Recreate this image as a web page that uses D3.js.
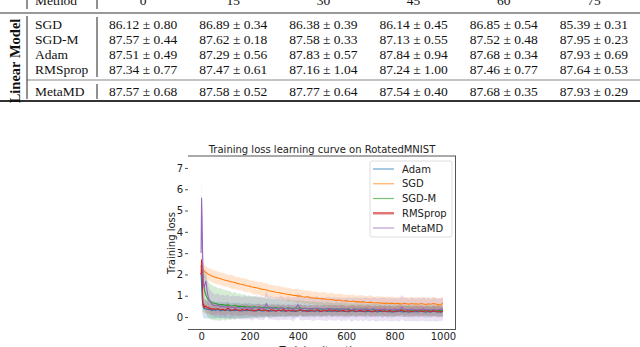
<!DOCTYPE html>
<html><head><meta charset="utf-8">
<script src="https://cdn.jsdelivr.net/npm/d3@7/dist/d3.min.js"></script>
<style>html,body{margin:0;padding:0;background:#fff;overflow:hidden}svg{display:block}</style>
</head><body>
<svg id="c" width="640" height="347"></svg>
<script>
// ---------- table data ----------
const tableGroup = "Linear Model";
const methods = ["SGD", "SGD-M", "Adam", "RMSprop"];
const oursMethod = "MetaMD";
const angles = ["0", "15", "30", "45", "60", "75"];
const accMean = [
  [86.12, 86.89, 86.38, 86.14, 86.85, 85.39],
  [87.57, 87.62, 87.58, 87.13, 87.52, 87.95],
  [87.51, 87.29, 87.83, 87.84, 87.68, 87.93],
  [87.34, 87.47, 87.16, 87.24, 87.46, 87.64]
];
const accStd = [
  [0.80, 0.34, 0.39, 0.45, 0.54, 0.31],
  [0.44, 0.18, 0.33, 0.55, 0.48, 0.23],
  [0.49, 0.56, 0.57, 0.94, 0.34, 0.69],
  [0.77, 0.61, 1.04, 1.00, 0.77, 0.53]
];
const oursMean = [87.57, 87.58, 87.77, 87.54, 87.68, 87.93];
const oursStd = [0.68, 0.52, 0.64, 0.40, 0.35, 0.29];

// ---------- chart data ----------
const chartTitle = "Training loss learning curve on RotatedMNIST";
const seriesNames = ["Adam", "SGD", "SGD-M", "RMSprop", "MetaMD"];
const xTicks = [0, 200, 400, 600, 800, 1000];
const yTicks = [0, 1, 2, 3, 4, 5, 6, 7];
const iterations = [0,2,4,6,8,10,12,15,20,25,30,35,40,45,50,
  60,70,80,90,100,110,120,130,140,150,
  160,170,180,190,200,210,220,230,240,250,
  260,270,280,290,300,310,320,330,340,350,
  360,370,380,390,400,410,420,430,440,450,
  460,470,480,490,500,510,520,530,540,550,
  560,570,580,590,600,610,620,630,640,650,
  660,670,680,690,700,710,720,730,740,750,
  760,770,780,790,800,810,820,830,840,850,
  860,870,880,890,900,910,920,930,940,950,
  960,970,980,990,1000];

const adamMean = [2.05,1.55,1.05,0.70,0.52,0.45,0.42,0.38,0.40,0.36,0.35,0.38,0.34,0.31,0.34,
  0.32,0.35,0.30,0.33,0.31,0.34,0.29,0.32,0.30,0.33,
  0.31,0.28,0.32,0.30,0.33,0.29,0.31,0.28,0.32,0.30,
  0.29,0.33,0.30,0.27,0.31,0.29,0.32,0.28,0.30,0.27,
  0.31,0.29,0.26,0.30,0.28,0.32,0.27,0.29,0.30,0.26,
  0.29,0.27,0.30,0.25,0.28,0.31,0.26,0.28,0.27,0.29,
  0.25,0.28,0.30,0.26,0.27,0.24,0.29,0.27,0.25,0.28,
  0.26,0.29,0.24,0.27,0.25,0.28,0.26,0.24,0.27,0.25,
  0.28,0.25,0.26,0.23,0.27,0.25,0.28,0.24,0.26,0.25,
  0.23,0.27,0.25,0.26,0.24,0.28,0.25,0.23,0.26,0.24,
  0.27,0.25,0.23,0.26,0.25];
const adamStd = [0.60,0.90,0.80,0.60,0.50,0.50,0.48,0.46,0.45,0.44,0.43,0.42,0.42,0.41,0.40,
  0.40,0.38,0.39,0.37,0.38,0.36,0.37,0.35,0.36,0.34,
  0.35,0.33,0.35,0.32,0.34,0.33,0.31,0.33,0.32,0.30,
  0.32,0.31,0.30,0.32,0.29,0.31,0.30,0.28,0.30,0.29,
  0.30,0.28,0.29,0.31,0.28,0.29,0.27,0.30,0.28,0.29,
  0.27,0.29,0.28,0.26,0.29,0.27,0.28,0.26,0.28,0.27,
  0.26,0.28,0.27,0.29,0.26,0.27,0.25,0.28,0.26,0.27,
  0.25,0.27,0.26,0.28,0.25,0.26,0.27,0.25,0.26,0.28,
  0.25,0.26,0.27,0.25,0.26,0.24,0.27,0.25,0.26,0.25,
  0.26,0.25,0.27,0.25,0.26,0.24,0.26,0.25,0.27,0.25,
  0.26,0.25,0.27,0.25,0.26];

const sgdMean = [2.42,2.36,2.30,2.26,2.22,2.20,2.17,2.13,2.09,2.05,2.01,1.98,1.96,1.93,1.90,
  1.86,1.83,1.80,1.76,1.73,1.70,1.67,1.64,1.62,1.58,
  1.55,1.53,1.50,1.47,1.45,1.41,1.39,1.37,1.34,1.31,
  1.29,1.27,1.23,1.21,1.19,1.16,1.15,1.12,1.10,1.08,
  1.06,1.05,1.01,1.02,0.98,0.99,0.95,0.93,0.96,0.91,
  0.90,0.88,0.89,0.86,0.85,0.86,0.82,0.81,0.83,0.79,
  0.78,0.80,0.76,0.75,0.77,0.74,0.73,0.75,0.71,0.72,
  0.70,0.72,0.69,0.68,0.70,0.67,0.66,0.68,0.65,0.66,
  0.64,0.66,0.63,0.65,0.62,0.64,0.63,0.61,0.64,0.62,
  0.60,0.63,0.61,0.62,0.60,0.63,0.61,0.59,0.62,0.60,
  0.63,0.61,0.58,0.55,0.66];
const sgdStd = [0.30,0.30,0.31,0.30,0.29,0.30,0.31,0.30,0.29,0.30,0.31,0.30,0.29,0.30,0.31,
  0.30,0.31,0.29,0.32,0.30,0.28,0.31,0.33,0.29,0.30,
  0.31,0.29,0.32,0.30,0.28,0.31,0.33,0.30,0.29,0.32,
  0.30,0.34,0.29,0.31,0.30,0.28,0.32,0.30,0.31,0.29,
  0.33,0.30,0.28,0.31,0.35,0.30,0.29,0.32,0.30,0.31,
  0.29,0.32,0.30,0.28,0.33,0.31,0.29,0.30,0.32,0.30,
  0.31,0.29,0.33,0.30,0.28,0.32,0.30,0.31,0.29,0.30,
  0.32,0.30,0.29,0.31,0.33,0.30,0.28,0.31,0.30,0.32,
  0.29,0.31,0.30,0.33,0.28,0.30,0.32,0.29,0.31,0.30,
  0.33,0.30,0.29,0.32,0.30,0.31,0.29,0.33,0.30,0.31,
  0.33,0.30,0.29,0.32,0.30];

const sgdmMean = [2.40,2.32,2.15,1.95,1.75,1.58,1.42,1.22,1.02,0.90,0.82,0.76,0.72,0.69,0.66,
  0.63,0.60,0.58,0.59,0.55,0.57,0.53,0.52,0.54,0.50,
  0.51,0.49,0.50,0.47,0.48,0.46,0.49,0.45,0.47,0.44,
  0.46,0.43,0.45,0.44,0.42,0.45,0.41,0.43,0.42,0.40,
  0.43,0.41,0.39,0.42,0.40,0.44,0.39,0.41,0.38,0.40,
  0.38,0.41,0.37,0.39,0.38,0.36,0.40,0.37,0.38,0.35,
  0.38,0.36,0.39,0.35,0.37,0.36,0.34,0.37,0.35,0.36,
  0.34,0.37,0.33,0.36,0.34,0.35,0.33,0.36,0.32,0.34,
  0.33,0.35,0.32,0.34,0.33,0.31,0.36,0.33,0.32,0.34,
  0.31,0.33,0.32,0.30,0.34,0.31,0.33,0.30,0.32,0.31,
  0.30,0.33,0.31,0.29,0.32];
const sgdmStd = [0.30,0.35,0.45,0.55,0.65,0.75,0.80,0.85,0.86,0.84,0.85,0.83,0.84,0.81,0.80,
  0.79,0.75,0.77,0.71,0.72,0.67,0.68,0.62,0.64,0.58,
  0.60,0.55,0.57,0.52,0.54,0.49,0.51,0.47,0.49,0.45,
  0.47,0.43,0.45,0.41,0.44,0.40,0.42,0.39,0.41,0.37,
  0.40,0.36,0.39,0.35,0.38,0.34,0.37,0.33,0.36,0.32,
  0.35,0.32,0.34,0.31,0.33,0.30,0.33,0.30,0.32,0.29,
  0.32,0.29,0.31,0.28,0.31,0.28,0.30,0.27,0.30,0.27,
  0.29,0.27,0.29,0.26,0.29,0.26,0.28,0.26,0.28,0.25,
  0.28,0.25,0.27,0.25,0.27,0.24,0.27,0.24,0.26,0.24,
  0.26,0.24,0.26,0.23,0.26,0.23,0.25,0.23,0.25,0.23,
  0.25,0.22,0.25,0.22,0.24];

const rmsMean = [2.00,2.70,2.40,1.20,0.62,0.50,0.56,0.45,0.52,0.42,0.46,0.38,0.41,0.35,0.39,
  0.36,0.40,0.33,0.37,0.30,0.42,0.34,0.31,0.38,0.33,
  0.29,0.35,0.32,0.37,0.30,0.34,0.28,0.33,0.36,0.29,
  0.34,0.30,0.27,0.35,0.31,0.28,0.33,0.30,0.36,0.27,
  0.32,0.29,0.34,0.26,0.31,0.35,0.28,0.30,0.25,0.33,
  0.29,0.27,0.34,0.30,0.26,0.32,0.28,0.35,0.27,0.30,
  0.33,0.26,0.29,0.31,0.25,0.30,0.28,0.34,0.26,0.29,
  0.31,0.25,0.28,0.33,0.27,0.24,0.30,0.28,0.32,0.26,
  0.29,0.25,0.31,0.27,0.24,0.30,0.28,0.33,0.25,0.28,
  0.30,0.24,0.27,0.32,0.26,0.29,0.25,0.31,0.27,0.24,
  0.30,0.26,0.28,0.23,0.27];
const rmsStd = [0.30,0.35,0.40,0.40,0.35,0.32,0.30,0.30,0.30,0.29,0.30,0.28,0.29,0.28,0.27,
  0.27,0.26,0.28,0.25,0.27,0.26,0.24,0.27,0.25,0.26,
  0.24,0.27,0.25,0.26,0.23,0.26,0.25,0.27,0.24,0.26,
  0.25,0.23,0.26,0.24,0.27,0.25,0.24,0.26,0.23,0.25,
  0.26,0.24,0.25,0.23,0.26,0.24,0.27,0.25,0.23,0.25,
  0.24,0.26,0.23,0.25,0.24,0.26,0.25,0.23,0.26,0.24,
  0.25,0.23,0.26,0.24,0.25,0.23,0.26,0.24,0.25,0.24,
  0.26,0.23,0.25,0.24,0.26,0.23,0.25,0.24,0.23,0.25,
  0.24,0.26,0.23,0.25,0.24,0.23,0.25,0.24,0.26,0.23,
  0.25,0.24,0.23,0.25,0.24,0.26,0.23,0.25,0.24,0.23,
  0.25,0.24,0.26,0.23,0.25];

const metaMean = [3.00,5.60,4.60,3.10,2.20,1.60,1.35,1.50,1.70,1.20,0.92,0.78,0.70,0.62,0.56,
  0.52,0.55,0.48,0.51,0.46,0.50,0.44,0.47,0.42,0.46,
  0.43,0.40,0.45,0.41,0.44,0.39,0.42,0.47,0.40,0.43,
  0.38,0.62,0.41,0.44,0.39,0.42,0.37,0.45,0.40,0.38,
  0.43,0.39,0.36,0.41,0.58,0.40,0.37,0.42,0.38,0.41,
  0.36,0.39,0.42,0.37,0.40,0.35,0.38,0.41,0.36,0.39,
  0.37,0.40,0.35,0.38,0.36,0.41,0.34,0.37,0.39,0.35,
  0.38,0.35,0.40,0.36,0.34,0.39,0.36,0.33,0.37,0.35,
  0.38,0.34,0.36,0.33,0.37,0.35,0.32,0.47,0.34,0.36,
  0.33,0.37,0.35,0.32,0.36,0.34,0.38,0.33,0.35,0.32,
  0.36,0.34,0.33,0.37,0.35];
const metaStd = [0.50,0.85,0.90,0.80,0.70,0.60,0.56,0.55,0.60,0.55,0.56,0.54,0.55,0.53,0.55,
  0.54,0.56,0.52,0.55,0.53,0.57,0.52,0.54,0.56,0.53,
  0.55,0.52,0.56,0.53,0.54,0.57,0.52,0.55,0.53,0.56,
  0.52,0.58,0.54,0.55,0.52,0.56,0.53,0.57,0.54,0.52,
  0.55,0.53,0.56,0.52,0.58,0.54,0.53,0.56,0.52,0.55,
  0.53,0.56,0.54,0.52,0.55,0.53,0.57,0.54,0.52,0.55,
  0.54,0.52,0.56,0.53,0.55,0.52,0.56,0.54,0.53,0.55,
  0.52,0.56,0.54,0.53,0.55,0.52,0.57,0.54,0.53,0.55,
  0.54,0.52,0.56,0.53,0.55,0.52,0.54,0.58,0.53,0.55,
  0.52,0.56,0.54,0.53,0.55,0.52,0.56,0.53,0.55,0.52,
  0.54,0.56,0.53,0.55,0.52];

const seriesMeans = [adamMean, sgdMean, sgdmMean, rmsMean, metaMean];
const seriesStds = [adamStd, sgdStd, sgdmStd, rmsStd, metaStd];
const seriesColors = ["#1f77b4", "#ff7f0e", "#2ca02c", "#d62728", "#9467bd"];

// ---------- draw table ----------
const svg = d3.select("#c");
const serif = "'Liberation Serif','Times New Roman',serif";
const sans = "'DejaVu Sans',sans-serif";
const tbl = svg.append("g");
const col = d3.scaleBand().domain(angles).range([98, 639]);
const rowY = d3.scalePoint().domain(methods).range([28.5, 74]);

// rules
tbl.append("line").attr("x1", 0).attr("x2", 640).attr("y1", 13).attr("y2", 13).attr("stroke", "#777").attr("stroke-width", 1.6);
tbl.append("line").attr("x1", 27).attr("x2", 640).attr("y1", 80).attr("y2", 80).attr("stroke", "#888").attr("stroke-width", 1);
tbl.append("line").attr("x1", 0).attr("x2", 640).attr("y1", 101).attr("y2", 101).attr("stroke", "#333").attr("stroke-width", 2);
// vertical bars
[[27, 0, 9], [27, 16, 99], [97, 0, 9], [97, 17, 77], [97, 84, 99]].forEach(([x, a, b]) =>
  tbl.append("line").attr("x1", x).attr("x2", x).attr("y1", a).attr("y2", b).attr("stroke", "#222").attr("stroke-width", 1));

const fmt = (m, s) => m.toFixed(2) + " \u00b1 " + s.toFixed(2);
tbl.append("text").attr("x", 35).attr("y", 5).attr("font-family", serif).attr("font-size", 13.5).attr("fill", "#111").text("Method");
angles.forEach(a => tbl.append("text").attr("x", col(a) + col.bandwidth() / 2).attr("y", 5)
  .attr("text-anchor", "middle").attr("font-family", serif).attr("font-size", 13.5).attr("fill", "#111").text(a));
methods.forEach((m, i) => {
  tbl.append("text").attr("x", 35).attr("y", rowY(m)).attr("font-family", serif).attr("font-size", 13.5).attr("fill", "#111").text(m);
  angles.forEach((a, j) => tbl.append("text").attr("x", col(a) + col.bandwidth() / 2).attr("y", rowY(m))
    .attr("text-anchor", "middle").attr("font-family", serif).attr("font-size", 13.5).attr("fill", "#111")
    .text(fmt(accMean[i][j], accStd[i][j])));
});
tbl.append("text").attr("x", 35).attr("y", 96).attr("font-family", serif).attr("font-size", 13.5).attr("fill", "#111").text(oursMethod);
angles.forEach((a, j) => tbl.append("text").attr("x", col(a) + col.bandwidth() / 2).attr("y", 96)
  .attr("text-anchor", "middle").attr("font-family", serif).attr("font-size", 13.5).attr("fill", "#111")
  .text(fmt(oursMean[j], oursStd[j])));
tbl.append("text").attr("transform", "translate(20,61) rotate(-90)").attr("text-anchor", "middle")
  .attr("font-family", serif).attr("font-size", 14.5).attr("font-weight", "bold").attr("fill", "#111").text(tableGroup);

// ---------- draw chart ----------
const x = d3.scaleLinear().domain([-50, 1050]).range([189, 455]);
const y = d3.scaleLinear().domain([-0.61, 7.56]).range([330, 156]);
const ch = svg.append("g");
ch.append("defs").append("clipPath").attr("id", "pc").append("rect")
  .attr("x", 189).attr("y", 156).attr("width", 266).attr("height", 174);
const plot = ch.append("g").attr("clip-path", "url(#pc)");

seriesNames.forEach((n, k) => {
  const area = d3.area().x((d, i) => x(iterations[i]))
    .y0((d, i) => y(seriesMeans[k][i] - seriesStds[k][i]))
    .y1((d, i) => y(seriesMeans[k][i] + seriesStds[k][i]));
  plot.append("path").datum(seriesMeans[k]).attr("d", area)
    .attr("fill", seriesColors[k]).attr("fill-opacity", 0.2).attr("stroke", "none");
});
seriesNames.forEach((n, k) => {
  const line = d3.line().x((d, i) => x(iterations[i])).y(d => y(d));
  plot.append("path").datum(seriesMeans[k]).attr("d", line)
    .attr("fill", "none").attr("stroke", seriesColors[k]).attr("stroke-width", 1.1);
});

// spines (top, right, bottom)
ch.append("line").attr("x1", 188).attr("x2", 456).attr("y1", 156).attr("y2", 156).attr("stroke", "#555").attr("stroke-width", 1);
ch.append("line").attr("x1", 455.5).attr("x2", 455.5).attr("y1", 156).attr("y2", 330).attr("stroke", "#555").attr("stroke-width", 1);
ch.append("line").attr("x1", 188).attr("x2", 456).attr("y1", 329.5).attr("y2", 329.5).attr("stroke", "#555").attr("stroke-width", 1);

// axes
const yAxis = d3.axisLeft(y).tickValues(yTicks).tickFormat(d3.format("d")).tickSize(3).tickPadding(2);
const yg = ch.append("g").attr("transform", "translate(188,0)").call(yAxis);
yg.select(".domain").remove();
yg.selectAll("line").attr("stroke", "#555");
yg.selectAll("text").attr("font-family", sans).attr("font-size", 10).attr("fill", "#222");
const xAxis = d3.axisBottom(x).tickValues(xTicks).tickFormat(d3.format("d")).tickSize(0).tickPadding(3);
const xg = ch.append("g").attr("transform", "translate(0,330)").call(xAxis);
xg.select(".domain").remove();
xg.selectAll("text").attr("font-family", sans).attr("font-size", 10).attr("fill", "#222");

ch.append("text").attr("x", 322).attr("y", 153).attr("text-anchor", "middle").attr("font-family", sans)
  .attr("font-size", 10).attr("fill", "#222").text(chartTitle);
ch.append("text").attr("transform", "translate(175,243) rotate(-90)").attr("text-anchor", "middle")
  .attr("font-family", sans).attr("font-size", 10).attr("fill", "#222").text("Training loss");
ch.append("text").attr("x", 322).attr("y", 354).attr("text-anchor", "middle").attr("font-family", sans)
  .attr("font-size", 10).attr("fill", "#222").text("Training iteration");

// legend
const lg = ch.append("g");
lg.append("rect").attr("x", 370).attr("y", 161).attr("width", 82).attr("height", 76).attr("rx", 2)
  .attr("fill", "#fff").attr("fill-opacity", 0.85).attr("stroke", "#ddd").attr("stroke-width", 1);
const ly = d3.scalePoint().domain(seriesNames).range([169, 228]);
seriesNames.forEach((n, k) => {
  lg.append("line").attr("x1", 373).attr("x2", 394).attr("y1", ly(n)).attr("y2", ly(n))
    .attr("stroke", seriesColors[k]).attr("stroke-opacity", 0.65).attr("stroke-width", n === "RMSprop" ? 2.4 : 1.2);
  lg.append("text").attr("x", 402).attr("y", ly(n)).attr("dy", "0.35em").attr("font-family", sans)
    .attr("font-size", 10).attr("fill", "#222").text(n);
});
</script>
</body></html>
